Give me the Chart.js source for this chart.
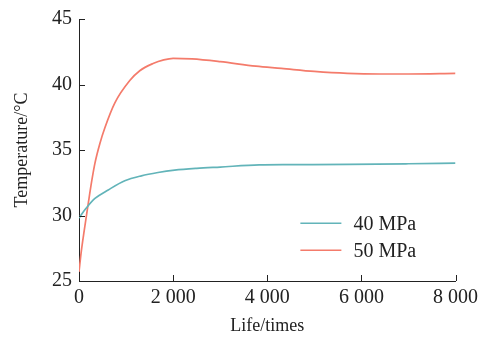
<!DOCTYPE html>
<html><head><meta charset="utf-8">
<script src="https://cdn.jsdelivr.net/npm/chart.js@4/dist/chart.umd.min.js"></script>
<style>html,body{margin:0;padding:0;background:#fff}#wrap{width:483px;height:337px}</style>
</head><body><div id="wrap"><canvas id="c" width="483" height="337"></canvas></div>
<script>
const seriesLabels = ['40 MPa', '50 MPa'];
const life40 = [0, 56, 150, 339, 621, 973, 1326, 1679, 2031, 2500, 3000, 3830, 4500, 5735, 7000, 8000];
const temp40 = [29.8, 30.1, 30.55, 31.3, 31.95, 32.65, 33.03, 33.28, 33.46, 33.6, 33.7, 33.86, 33.88, 33.9, 33.95, 34.0];
const life50 = [0, 50, 113, 200, 269, 339, 444, 550, 762, 1079, 1291, 1573, 1800, 2000, 2400, 3000, 3760, 4300, 5000, 5700, 6400, 7000, 8000];
const temp50 = [25.7, 27.3, 28.9, 31.0, 32.6, 34.0, 35.5, 36.7, 38.6, 40.3, 41.05, 41.6, 41.88, 42.0, 41.95, 41.74, 41.4, 41.23, 41.0, 40.85, 40.8, 40.8, 40.85];
const xTicks = [0, 2000, 4000, 6000, 8000];
const yTicks = [25, 30, 35, 40, 45];

const FONT = "'Liberation Serif', 'Times New Roman', serif";
const colors = ['#62b4b9', '#f47b6b'];

const inwardTicks = {
  id: 'inwardTicks',
  afterDraw(chart) {
    const ctx = chart.ctx, xs = chart.scales.x, ys = chart.scales.y;
    ctx.save();
    ctx.strokeStyle = '#222'; ctx.lineWidth = 1;
    xTicks.forEach(v => { const px = Math.round(xs.getPixelForValue(v)) + 0.5; ctx.beginPath(); ctx.moveTo(px, ys.bottom); ctx.lineTo(px, ys.bottom - 6); ctx.stroke(); });
    yTicks.forEach(v => { const py = Math.round(ys.getPixelForValue(v)) + 0.5; ctx.beginPath(); ctx.moveTo(xs.left, py); ctx.lineTo(xs.left + 6, py); ctx.stroke(); });
    // legend
    ctx.font = '20px ' + FONT; ctx.textBaseline = 'middle'; ctx.fillStyle = '#222';
    const lx = xs.left + (xs.right - xs.left) * 0.588;
    chart.data.datasets.forEach((d, i) => {
      const y = ys.top + (ys.bottom - ys.top) * (0.78 + i * 0.103);
      ctx.strokeStyle = d.borderColor; ctx.lineWidth = 1.5;
      ctx.beginPath(); ctx.moveTo(lx, y); ctx.lineTo(lx + 41, y); ctx.stroke();
      ctx.fillText(d.label, lx + 53, y + 1);
    });
    ctx.restore();
  }
};

new Chart(document.getElementById('c'), {
  type: 'line',
  data: {
    datasets: [
      { label: seriesLabels[0], data: life40.map((x, i) => ({x, y: temp40[i]})), borderColor: colors[0], borderWidth: 1.7, pointRadius: 0, cubicInterpolationMode: 'monotone', fill: false },
      { label: seriesLabels[1], data: life50.map((x, i) => ({x, y: temp50[i]})), borderColor: colors[1], borderWidth: 1.7, pointRadius: 0, cubicInterpolationMode: 'monotone', fill: false }
    ]
  },
  options: {
    responsive: false, animation: false,
    layout: { padding: { top: 17, right: 26, left: 0, bottom: 0 } },
    plugins: { legend: { display: false }, tooltip: { enabled: false } },
    scales: {
      x: {
        type: 'linear', min: 0, max: 8000,
        afterBuildTicks: s => { s.ticks = xTicks.map(v => ({value: v})); },
        afterFit: s => { s.height = 56; },
        grid: { display: false, drawTicks: false },
        border: { display: true, color: '#222', width: 1 },
        ticks: { color: '#222', font: { family: FONT, size: 20 }, padding: 5, maxRotation: 0,
          callback: v => v >= 1000 ? Math.floor(v / 1000) + ' ' + String(v % 1000).padStart(3, '0') : String(v) },
        title: { display: true, text: 'Life/times', color: '#222', font: { family: FONT, size: 18 }, padding: { top: 0, bottom: 0 } }
      },
      y: {
        min: 25, max: 45,
        afterBuildTicks: s => { s.ticks = yTicks.map(v => ({value: v})); },
        afterFit: s => { s.width = 79; },
        grid: { display: false, drawTicks: false },
        border: { display: true, color: '#222', width: 1 },
        ticks: { color: '#222', font: { family: FONT, size: 20 }, padding: 7 },
        title: { display: true, text: 'Temperature/°C', color: '#222', font: { family: FONT, size: 18 }, padding: { top: 11, bottom: 0 } }
      }
    }
  },
  plugins: [inwardTicks]
});
</script></body></html>
